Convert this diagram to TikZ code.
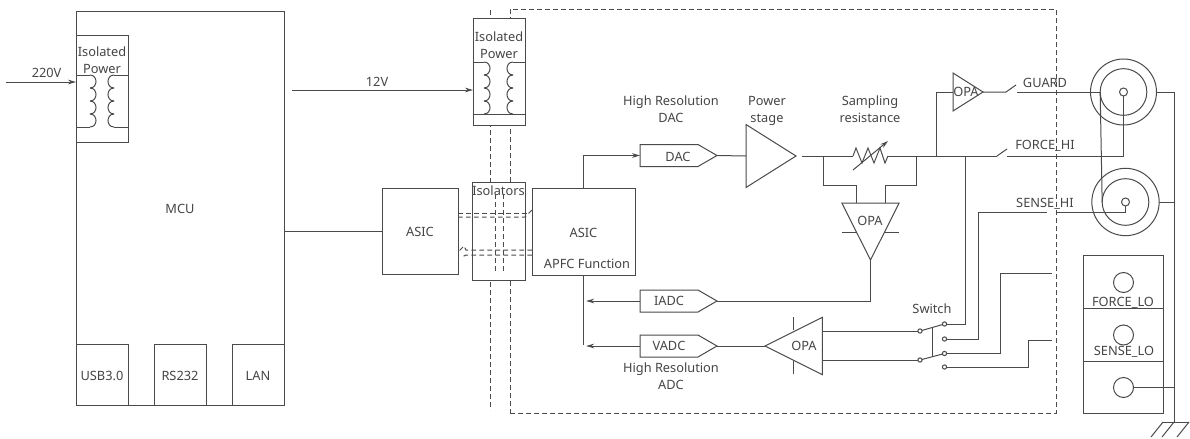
\documentclass[tikz,border=0pt]{standalone}
\usepackage{fontspec}
\setmainfont{Noto Sans}
\usetikzlibrary{ arrows.meta,
                 shapes.geometric, % For the amplifiers
                 shapes.symbols,   % For the converters
               }
\definecolor{ink}{HTML}{4A4A4A}
\definecolor{txt}{HTML}{454545}
\tikzstyle{wire} = [draw=ink, line width=0.75pt]
\tikzstyle{edge} = [wire, -{Stealth[length=6pt, width=3.5pt]}]
\tikzstyle{zone} = [draw=ink, line width=0.75pt, dash pattern=on 3.5pt off 2.5pt]
\tikzstyle{block} = [rectangle, wire, fill=white, inner sep=0pt, outer sep=0pt, text height=8.5pt, text depth=0pt]
\tikzstyle{amp} = [isosceles triangle, isosceles triangle stretches, wire, fill=white, inner sep=0pt, outer sep=0pt]
\tikzstyle{adc} = [signal, signal to=east, signal pointer angle=60, wire, inner sep=0pt, outer sep=0pt, minimum width=57.75pt, minimum height=16.5pt, anchor=west]
\tikzstyle{jack} = [circle, wire, inner sep=0pt, outer sep=0pt]
\tikzstyle{contact} = [circle, wire, inner sep=0pt, outer sep=0pt, minimum size=3.2pt]
\tikzstyle{label} = [text=txt, align=center, inner sep=0pt]
\newcommand{\coil}[4]{% x of the arcs, bulge, top, end of the lead
  \draw [wire] (#4,#3) -- (#1,#3);
  \foreach \y in {0,13,26,39}
    \draw [wire] (#1,#3+\y) .. controls (#1+#2,#3+\y) and (#1+#2,#3+\y+13) .. (#1,#3+\y+13);
  \draw [wire] (#1,#3+52) -- (#4,#3+52);
}

\begin{document}
\begin{tikzpicture}[x=0.75pt, y=-0.75pt, font=\fontsize{9.6}{12.75}\selectfont, text=txt]
  \useasboundingbox (0,0) rectangle (1190,439);

  % isolation barrier
  \node (zone_hot) [rectangle, zone, minimum width=409.5pt, minimum height=303pt, inner sep=0pt] at (783,211) {};
  \coordinate (barrier_t) at (490,10);
  \coordinate (barrier_b) at (490,410);
  \draw [zone] (barrier_t) -- (barrier_b);

  % left side
  \node (mcu) [block, minimum width=156pt, minimum height=295.5pt] at (180,208) {MCU};
  \node (iso1) [block, minimum width=39pt, minimum height=80.25pt] at (102,88.5) {};
  \node (iso1_txt) [label] at (102,60.5) {Isolated\\Power};
  \coil{90}{8}{75}{76}
  \coil{114}{-8}{75}{128}
  \node (usb) [block, minimum width=39pt, minimum height=45.75pt] at (102,374.5) {USB3.0};
  \node (rs232) [block, minimum width=39pt, minimum height=45.75pt] at (180,374.5) {RS232};
  \node (lan) [block, minimum width=39pt, minimum height=45.75pt] at (258,374.5) {LAN};
  \coordinate (ac_in) at (6,82);
  \draw [edge] (ac_in) -- (ac_in -| iso1.west) node [label, pos=0.58, yshift=7pt] {220V};

  % crossing the barrier
  \node (iso2) [block, minimum width=39pt, minimum height=80.25pt] at (499,71.5) {};
  \node (iso2_txt) [label] at (499,45.5) {Isolated\\Power};
  \coil{484}{8}{62}{473}
  \coil{513}{-8}{62}{525}
  \coordinate (iso2_base) at (499,114);
  \draw [wire] (iso2.west |- iso2_base) -- (iso2.east |- iso2_base);
  \coordinate (dc_out) at (292,90);
  \draw [edge] (dc_out) -- (dc_out -| iso2.west) node [label, pos=0.47, yshift=6pt] {12V};

  \node (isolators) [block, minimum width=39.75pt, minimum height=73.5pt] at (498.5,231) {};
  \node (isolators_txt) [label] at (498.5,191) {Isolators};
  \node (asic1) [block, minimum width=57pt, minimum height=64.5pt] at (420,231) {ASIC};
  \node (asic2) [block, minimum width=77.25pt, minimum height=65.25pt] at (583.5,231.5) {ASIC};
  \node (apfc_txt) [label] at (587,264) {APFC Function};
  \draw [wire] (asic1.west -| mcu.east) -- (asic1.west);
  \foreach \x in {495,503.5}
    \draw [zone] (\x,194) -- (\x,273);
  \draw [zone] (458,213) -- (527,213) -- (526,211);
  \draw [zone] (458,217) -- (525,217) -- (532,210);
  \draw [zone] (532,250) -- (466,250) -- (464,246) -- (458,252);
  \draw [zone] (532,255) -- (466,255) -- (462,257);

  % source path
  \node (dac) [adc] at (640,155.5) {};
  \node (dac_in) [label] at (678,157) {DAC};
  \node (pwr) [amp, minimum width=47.25pt, minimum height=37.5pt, anchor=apex] at (796,156) {};
  \coordinate (res_l) at (853,156);
  \coordinate (res_r) at (888,156);
  \draw [wire] (res_l) -- (856,148) -- (862,163) -- (868,148) -- (874,163) -- (880,148) -- (885,163) -- (res_r);
  \draw [edge] (853,170) -- (888,141);
  \draw [edge] (asic2.north) |- (dac.west);
  \draw [wire] (dac.east) -- (pwr.lower side);
  \draw [wire, shorten <=4.5pt] (pwr.apex) -- (res_l);
  \node (dac_txt) [label] at (671,109.5) {High Resolution\\DAC};
  \node (pwr_txt) [label] at (767,111) {Power\\stage};
  \node (res_txt) [label] at (870,109.5) {Sampling\\resistance};

  % current sense
  \node (opa_i) [amp, shape border rotate=-90, minimum width=43pt, minimum height=42.75pt, anchor=apex] at (870.5,260) {};
  \node (opa_i_txt) [label] at (870,221) {OPA};
  \coordinate (tap_l) at (823,156);
  \coordinate (tap_r) at (916,156);
  \coordinate (opa_i_p) at (856,203);
  \coordinate (opa_i_n) at (885,203);
  \draw [wire] (tap_l) -- ++(0,29) -| (opa_i_p);
  \draw [wire] (tap_r) -- ++(0,29) -| (opa_i_n);
  \draw [wire] (842,232) -- (856,232);
  \draw [wire] (885,232) -- (899,232);
  \node (iadc) [adc] at (640,301) {IADC};
  \draw [wire] (opa_i.apex) |- (iadc.east);
  \draw [edge, shorten >=2pt] (iadc.west) -- (iadc.west -| asic2.south);
  \draw [wire] (asic2.south) |- (583.5,345);

  % guard
  \node (opa_g) [amp, minimum width=28.5pt, minimum height=22.5pt, anchor=apex] at (983,92) {};
  \node (opa_g_txt) [label] at (966,92) {OPA};
  \coordinate (g_tap) at (936,156);
  \coordinate (g_in) at (1006,92);
  \coordinate (g_out) at (1017,92);
  \coordinate (f_in) at (997,156);
  \coordinate (f_out) at (1007,156);
  \draw [wire] (res_r) -- (f_in);
  \draw [wire] (g_tap) |- (opa_g.lower side);
  \draw [wire] (opa_g.apex) -- (g_in) -- (1016,85);
  \draw [wire] (f_in) -- (1007,149);
  \node (guard_txt) [label] at (1045,83) {GUARD};
  \node (force_txt) [label] at (1045,146) {FORCE\_HI};
  \node (sense_txt) [label] at (1045,204) {SENSE\_HI};

  % voltage sense and switch
  \node (vadc) [adc] at (640,346) {VADC};
  \node (opa_v) [amp, shape border rotate=180, minimum width=43pt, minimum height=43pt, anchor=apex] at (765,346) {};
  \node (opa_v_txt) [label] at (804,346) {OPA};
  \draw [wire] (793.5,317) -- (793.5,330);
  \draw [wire] (793.5,361) -- (793.5,374);
  \draw [wire] (opa_v.apex) -- (vadc.east);
  \draw [edge, shorten >=2pt] (vadc.west) -- (vadc.west -| asic2.south);
  \node (vadc_txt) [label] at (671,376.5) {High Resolution\\ADC};
  \node (sw_a) [contact] at (920,331) {};
  \node (sw_b) [contact] at (920,360) {};
  \node (sw_1) [contact] at (944.5,324) {};
  \node (sw_2) [contact] at (944.5,339) {};
  \node (sw_3) [contact] at (944.5,353.5) {};
  \node (sw_4) [contact] at (944.5,367) {};
  \node (sw_txt) [label] at (932,309) {Switch};
  \draw [wire] (822,331) -- (sw_a);
  \draw [wire] (822,360) -- (sw_b);
  \draw [wire] (sw_a) -- (sw_1);
  \draw [wire] (sw_b) -- (sw_3);
  \draw [wire] (932,327.5) -- (932,356.5);
  \draw [wire] (sw_1) -| (965,156);
  \draw [wire] (sw_2) -| (978.5,212) -- (1047,212);
  \draw [wire] (sw_3) -| (1000,273) -- (1052,273);
  \draw [wire] (sw_4) -| (1028,340) -- (1052,340);

  % connectors on the panel
  \node (cx1_out) [jack, minimum size=49.5pt] at (1123.5,92) {};
  \node (cx1_in) [jack, minimum size=35pt] at (1123.5,92) {};
  \node (cx1_pin) [jack, minimum size=6pt] at (1123.5,92) {};
  \node (cx2_out) [jack, minimum size=50.5pt] at (1125.5,202) {};
  \node (cx2_in) [jack, minimum size=35pt] at (1125.5,202) {};
  \node (cx2_pin) [jack, minimum size=6pt] at (1125.5,202) {};
  \draw [wire] (g_out) -- (cx1_in.west);
  \draw [wire] (f_out) -| (cx1_pin.south);
  \draw [wire] (1057,212) -| (cx2_pin.south);
  \draw [wire] (cx1_in.west) -- (cx2_in.west);

  \node (lo1) [block, minimum width=60pt, minimum height=39.6pt] at (1123.5,282) {};
  \node (lo2) [block, minimum width=60pt, minimum height=39.6pt] at (1123.5,334.8) {};
  \node (lo3) [block, minimum width=60pt, minimum height=39.6pt] at (1123.5,387.5) {};
  \node (lo1_c) [jack, minimum size=15pt] at (1123.5,282.5) {};
  \node (lo2_c) [jack, minimum size=15pt] at (1123.5,335) {};
  \node (lo3_c) [jack, minimum size=15pt] at (1123.5,387.5) {};
  \node (lo1_txt) [label] at (1123,302.5) {FORCE\_LO};
  \node (lo2_txt) [label] at (1124,351.5) {SENSE\_LO};

  % ground
  \coordinate (gnd) at (1174,422);
  \draw [wire] (cx1_out.east) -| (gnd);
  \draw [wire] (cx2_out.east) -- (cx2_out.east -| gnd);
  \draw [wire] (lo3_c.east) -- (lo3_c.east -| gnd);
  \draw [wire] (1163,422) -- (1189,422);
  \foreach \x in {1163,1174,1189}
    \draw [wire] (\x,422) -- ++(-12,15);
\end{tikzpicture}
\end{document}
